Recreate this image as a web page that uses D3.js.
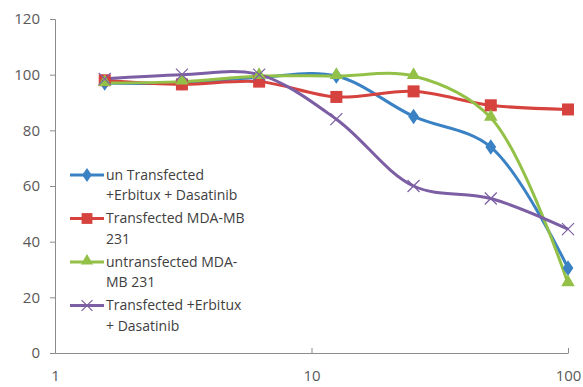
<!DOCTYPE html>
<html>
<head>
<meta charset="utf-8">
<script src="https://cdn.jsdelivr.net/npm/d3@7"></script>
<style>
  body { margin: 0; background: #fff; }
  text { font-family: "Open Sans", sans-serif; }
</style>
</head>
<body>
<div id="chart"></div>
<script>
// Data
const doses = [1.5625, 3.125, 6.25, 12.5, 25, 50, 100];
const unTransfectedDrugs = [97, 97, 99, 99.5, 85, 74, 30.5];
const transfectedMDA = [98, 96.5, 97.5, 92, 94, 89, 87.5];
const untransfectedMDA = [97, 97.5, 99.5, 99.5, 99.5, 84.5, 25];
const transfectedDrugs = [98.5, 100, 100, 84, 60, 55.5, 44.5];
const yTicks = [0, 20, 40, 60, 80, 100, 120];
const xTicks = [1, 10, 100];

const series = [
  { name: ['un Transfected', '+Erbitux + Dasatinib'], values: unTransfectedDrugs, color: '#3a82c4', marker: 'diamond' },
  { name: ['Transfected MDA-MB', '231'], values: transfectedMDA, color: '#d6423e', marker: 'square' },
  { name: ['untransfected MDA-', 'MB 231'], values: untransfectedMDA, color: '#93c147', marker: 'triangle' },
  { name: ['Transfected +Erbitux', '+ Dasatinib'], values: transfectedDrugs, color: '#7b5ea3', marker: 'x' }
];

// Constants
const WIDTH = 583;
const HEIGHT = 387;
const MARGIN = { top: 19, right: 15, bottom: 34, left: 55 };

const svg = d3.select('#chart')
  .append('svg')
  .attr('width', WIDTH)
  .attr('height', HEIGHT);

// Scales
const x = d3.scaleLog()
  .domain([1, 100])
  .range([MARGIN.left, WIDTH - MARGIN.right]);

const y = d3.scaleLinear()
  .domain([0, 120])
  .range([HEIGHT - MARGIN.bottom, MARGIN.top]);

// Y axis
const yAxis = svg.append('g')
  .attr('transform', `translate(${MARGIN.left},0)`)
  .call(d3.axisLeft(y).tickValues(yTicks).tickSize(5).tickPadding(10));
yAxis.select('.domain').attr('stroke', '#8c8c8c');
yAxis.selectAll('.tick line').attr('stroke', '#8c8c8c');
yAxis.selectAll('.tick text')
  .attr('fill', '#595959')
  .style('font-size', '15px');

// X axis
const xAxis = svg.append('g')
  .attr('transform', `translate(0,${y(0)})`)
  .call(d3.axisBottom(x).tickValues(xTicks).tickFormat(d3.format('d')).tickSizeInner(-5).tickSizeOuter(0).tickPadding(17));
xAxis.select('.domain').attr('stroke', '#8c8c8c');
xAxis.selectAll('.tick line').attr('stroke', '#8c8c8c');
xAxis.selectAll('.tick text')
  .attr('fill', '#595959')
  .style('font-size', '15px');

// Lines
const line = d3.line()
  .x((d, i) => x(doses[i]))
  .y(d => y(d))
  .curve(d3.curveCatmullRom.alpha(0.5));

const plot = svg.append('g');

series.forEach(s => {
  plot.append('path')
    .datum(s.values)
    .attr('fill', 'none')
    .attr('stroke', s.color)
    .attr('stroke-width', 3)
    .attr('d', line);
});

function drawMarker(g, type, color, cx, cy, scale) {
  const k = scale || 1;
  if (type === 'diamond') {
    g.append('path')
      .attr('d', d3.symbol(d3.symbolDiamond, 70 * k * k)())
      .attr('transform', `translate(${cx},${cy}) scale(1.2,1)`)
      .attr('fill', color);
  } else if (type === 'square') {
    const s = 12 * k;
    g.append('rect')
      .attr('x', cx - s / 2).attr('y', cy - s / 2)
      .attr('width', s).attr('height', s)
      .attr('fill', color);
  } else if (type === 'triangle') {
    g.append('path')
      .attr('d', d3.symbol(d3.symbolTriangle, 80 * k * k)())
      .attr('transform', `translate(${cx},${cy - 1})`)
      .attr('fill', color);
  } else {
    const r = 6 * k;
    g.append('path')
      .attr('d', `M${cx - r},${cy - r}L${cx + r},${cy + r}M${cx - r},${cy + r}L${cx + r},${cy - r}`)
      .attr('stroke', color)
      .attr('stroke-width', 1.2)
      .attr('fill', 'none');
  }
}

// Markers
series.forEach(s => {
  s.values.forEach((v, i) => drawMarker(plot, s.marker, s.color, x(doses[i]), y(v)));
});

// Legend
const legend = svg.append('g');
const legendX = 70;
const legendY0 = 175;
const rowH = 43.5;
series.forEach((s, i) => {
  const ly = legendY0 + i * rowH;
  legend.append('line')
    .attr('x1', legendX).attr('x2', legendX + 34)
    .attr('y1', ly).attr('y2', ly)
    .attr('stroke', s.color)
    .attr('stroke-width', 3);
  drawMarker(legend, s.marker, s.color, legendX + 17, ly, 0.9);
  s.name.forEach((t, j) => {
    legend.append('text')
      .attr('x', legendX + 36)
      .attr('y', ly + j * 20.5)
      .attr('dy', '0.35em')
      .attr('fill', '#404040')
      .style('font-size', '14px')
      .text(t);
  });
});
</script>
</body>
</html>
